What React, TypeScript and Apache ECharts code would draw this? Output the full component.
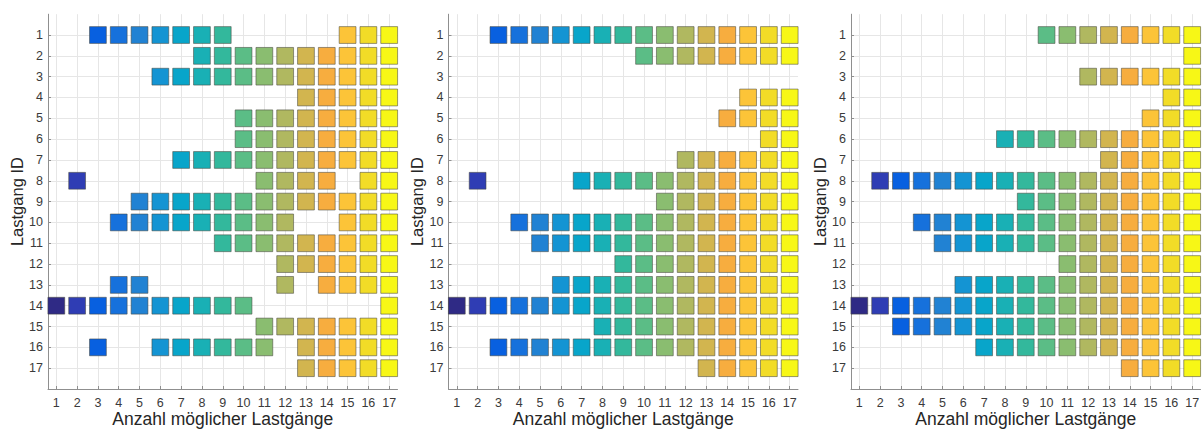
import React, { useEffect, useRef } from "react";
import * as echarts from "echarts";

const tickValues: number[] = [1, 2, 3, 4, 5, 6, 7, 8, 9, 10, 11, 12, 13, 14, 15, 16, 17];

const columnColors: string[] = [
  "#2f2a85", "#2f3db4", "#0860e0", "#1671dc", "#2182d3", "#1494d3", "#08a5ca",
  "#19b0b5", "#33b89c", "#5bbd86", "#8abd70", "#b0b860", "#d2b54f", "#f7ad3f",
  "#fcc438", "#f2dc27", "#f7f716",
];

// For each Lastgang ID (row 1..17), the columns that are filled
const panelA: number[][] = [
  [3, 4, 5, 6, 7, 8, 9, 15, 16, 17],
  [8, 9, 10, 11, 12, 13, 14, 15, 16, 17],
  [6, 7, 8, 9, 10, 11, 12, 13, 14, 15, 16, 17],
  [13, 14, 15, 16, 17],
  [10, 11, 12, 13, 14, 15, 16, 17],
  [10, 11, 12, 13, 14, 15, 16, 17],
  [7, 8, 9, 10, 11, 12, 13, 14, 15, 16, 17],
  [2, 11, 12, 13, 14, 16, 17],
  [5, 6, 7, 8, 9, 10, 11, 12, 13, 14, 15, 16, 17],
  [4, 5, 6, 7, 8, 9, 10, 11, 12, 15, 16, 17],
  [9, 10, 11, 12, 13, 14, 15, 16, 17],
  [12, 13, 14, 15, 16, 17],
  [4, 5, 12, 14, 15, 16, 17],
  [1, 2, 3, 4, 5, 6, 7, 8, 9, 10, 17],
  [11, 12, 13, 14, 15, 16, 17],
  [3, 6, 7, 8, 9, 10, 11, 13, 14, 15, 16, 17],
  [13, 14, 15, 16, 17],
];

const panelB: number[][] = [
  [3, 4, 5, 6, 7, 8, 9, 10, 11, 12, 13, 14, 15, 16, 17],
  [10, 11, 12, 13, 14, 15, 16, 17],
  [],
  [15, 16, 17],
  [14, 15, 16, 17],
  [16, 17],
  [12, 13, 14, 15, 16, 17],
  [2, 7, 8, 9, 10, 11, 12, 13, 14, 15, 16, 17],
  [11, 12, 13, 14, 15, 16, 17],
  [4, 5, 6, 7, 8, 9, 10, 11, 12, 13, 14, 15, 16, 17],
  [5, 6, 7, 8, 9, 10, 11, 12, 13, 14, 15, 16, 17],
  [9, 10, 11, 12, 13, 14, 15, 16, 17],
  [6, 7, 8, 9, 10, 11, 12, 13, 14, 15, 16, 17],
  [1, 2, 3, 4, 5, 6, 7, 8, 9, 10, 11, 12, 13, 14, 15, 16, 17],
  [8, 9, 10, 11, 12, 13, 14, 15, 16, 17],
  [3, 4, 5, 6, 7, 8, 9, 10, 11, 12, 13, 14, 15, 16, 17],
  [13, 14, 15, 16, 17],
];

const panelC: number[][] = [
  [10, 11, 12, 13, 14, 15, 16, 17],
  [17],
  [12, 13, 14, 15, 16, 17],
  [16, 17],
  [15, 16, 17],
  [8, 9, 10, 11, 12, 13, 14, 15, 16, 17],
  [13, 14, 15, 16, 17],
  [2, 3, 4, 5, 6, 7, 8, 9, 10, 11, 12, 13, 14, 15, 16, 17],
  [9, 10, 11, 12, 13, 14, 15, 16, 17],
  [4, 5, 6, 7, 8, 9, 10, 11, 12, 13, 14, 15, 16, 17],
  [5, 6, 7, 8, 9, 10, 11, 12, 13, 14, 15, 16, 17],
  [11, 12, 13, 14, 15, 16, 17],
  [6, 7, 8, 9, 10, 11, 12, 13, 14, 15, 16, 17],
  [1, 2, 3, 4, 5, 6, 7, 8, 9, 10, 11, 12, 13, 14, 15, 16, 17],
  [3, 4, 5, 6, 7, 8, 9, 10, 11, 12, 13, 14, 15, 16, 17],
  [7, 8, 9, 10, 11, 12, 13, 14, 15, 16, 17],
  [14, 15, 16, 17],
];

const xTitle = "Anzahl möglicher Lastgänge";
const yTitle = "Lastgang ID";

const panels = [panelA, panelB, panelC];
const gridLefts = [48, 448.5, 851];

export default function App() {
  const ref = useRef<HTMLDivElement>(null);
  useEffect(() => {
    if (!ref.current) return;
    const chart = echarts.init(ref.current, undefined, { renderer: "svg" });
    const font = "Liberation Sans, Arial, Helvetica, sans-serif";
    const axisColor = "#8f8f8f";
    const labelColor = "#3a3a3a";
    const titleColor = "#262626";
    const grids = gridLefts.map((left) => ({
      left,
      top: 14.2,
      width: 349.5,
      height: 374.8,
      containLabel: false,
      outerBoundsMode: "none",
    }));
    const xAxes = panels.map((_, i) => ({
      type: "value",
      gridIndex: i,
      min: 0.6,
      max: 17.4,
      name: xTitle,
      nameLocation: "middle",
      nameGap: 21,
      nameMoveOverlap: false,
      nameTextStyle: { fontFamily: font, fontSize: 17.5, lineHeight: 18, color: titleColor },
      axisLine: { show: true, onZero: false, lineStyle: { color: axisColor, width: 1 } },
      axisTick: { show: true, inside: true, length: 3, customValues: tickValues, lineStyle: { color: axisColor } },
      axisLabel: { customValues: tickValues, margin: 7, fontFamily: font, fontSize: 12.5, color: labelColor },
      splitLine: { show: true, customValues: tickValues, lineStyle: { color: "#e6e6e6", width: 1 } },
    }));
    const yAxes = panels.map((_, i) => ({
      type: "value",
      gridIndex: i,
      min: 0,
      max: 18,
      inverse: true,
      name: yTitle,
      nameLocation: "middle",
      nameGap: 23,
      nameMoveOverlap: false,
      nameRotate: 90,
      nameTextStyle: { fontFamily: font, fontSize: 16.5, color: titleColor },
      axisLine: { show: true, onZero: false, lineStyle: { color: axisColor, width: 1 } },
      axisTick: { show: true, inside: true, length: 3, customValues: tickValues, lineStyle: { color: axisColor } },
      axisLabel: { customValues: tickValues, margin: 5, fontFamily: font, fontSize: 12.5, color: labelColor },
      splitLine: { show: true, customValues: tickValues, lineStyle: { color: "#e6e6e6", width: 1 } },
    }));
    const series = panels.map((rows, i) => ({
      type: "scatter",
      xAxisIndex: i,
      yAxisIndex: i,
      symbol: "rect",
      symbolSize: [16.8, 16.8],
      itemStyle: { opacity: 1 },
      data: rows.flatMap((cols, r) =>
        cols.map((c) => ({
          value: [c, r + 1],
          itemStyle: {
            color: columnColors[c - 1],
            borderColor: "rgba(70,70,60,0.55)",
            borderWidth: 1,
            opacity: 1,
          },
        }))
      ),
    }));
    chart.setOption({
      animation: false,
      backgroundColor: "#ffffff",
      grid: grids,
      xAxis: xAxes,
      yAxis: yAxes,
      series,
    });
    return () => chart.dispose();
  }, []);
  return (
    <div
      ref={ref}
      style={{ position: "absolute", left: 0, top: 0, width: 1204, height: 431 }}
    />
  );
}
